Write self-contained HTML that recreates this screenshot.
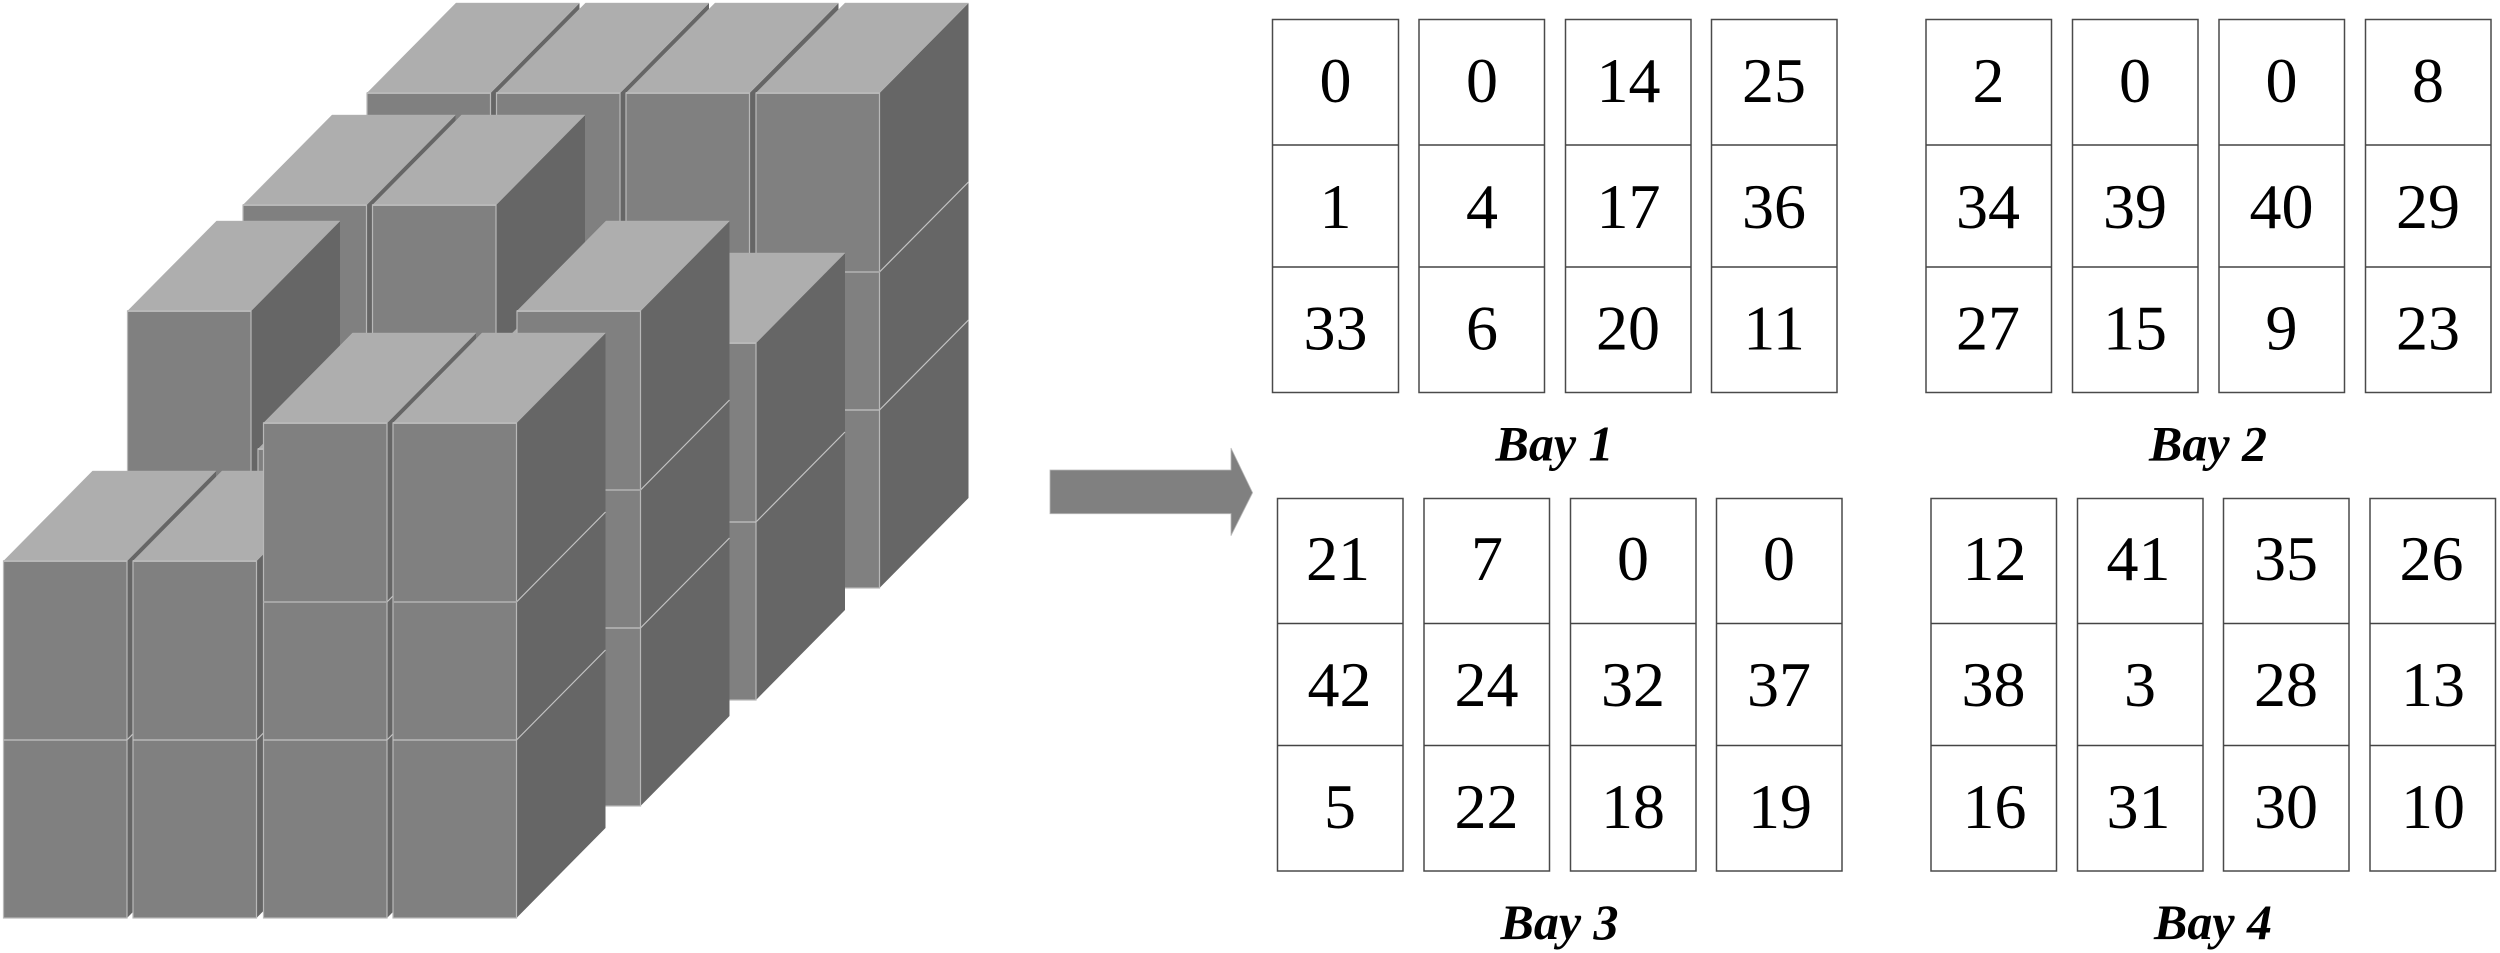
<!DOCTYPE html>
<html>
<head>
<meta charset="utf-8">
<style>
html,body{margin:0;padding:0;background:#fff;}
svg{display:block;}
.t{fill:#aeaeae;stroke:#b4b4b4;stroke-width:.4;}
.r{fill:#666;stroke:none;}
.f{fill:#808080;stroke:#b8b8b8;stroke-width:1.2;}
.e{stroke:#b8b8b8;stroke-width:2;fill:none;}
.l{stroke:#c4c4c4;stroke-width:1.2;fill:none;}
.m{stroke:#a6a6a6;stroke-width:2;fill:none;}
.c{fill:#fff;stroke:#4a4a4a;stroke-width:1.5;}
.h{stroke:#444;stroke-width:1.5;fill:none;}
text{font-family:"Liberation Serif",serif;fill:#000;}
.n{font-size:64px;text-anchor:middle;}
.b{font-size:50px;font-weight:bold;font-style:italic;}
</style>
</head>
<body>
<svg width="2500" height="953" viewBox="0 0 2500 953" xmlns="http://www.w3.org/2000/svg">
<defs>
<g id="c3">
<polygon class="r" points="123.5,-495 212.5,-585 212.5,-90 123.5,0"/>
<line class="l" x1="123.5" y1="-316" x2="212.5" y2="-406"/>
<line class="l" x1="123.5" y1="-178" x2="212.5" y2="-268"/>
<polygon class="t" points="0,-495 123.5,-495 212.5,-585 89,-585"/>
<rect class="f" x="0" y="-495" width="123.5" height="495"/>
<line class="e" x1="0" y1="-495" x2="123.5" y2="-495"/>
<line class="m" x1="0" y1="-316" x2="123.5" y2="-316"/>
<line class="l" x1="0" y1="-178" x2="123.5" y2="-178"/>
</g>
<g id="c2">
<polygon class="r" points="123.5,-357 212.5,-447 212.5,-90 123.5,0"/>
<line class="l" x1="123.5" y1="-178" x2="212.5" y2="-268"/>
<polygon class="t" points="0,-357 123.5,-357 212.5,-447 89,-447"/>
<rect class="f" x="0" y="-357" width="123.5" height="357"/>
<line class="e" x1="0" y1="-357" x2="123.5" y2="-357"/>
<line class="l" x1="0" y1="-178" x2="123.5" y2="-178"/>
</g>
</defs>

<!-- back row -->
<use href="#c3" x="367" y="588"/>
<use href="#c3" x="496.5" y="588"/>
<use href="#c3" x="626" y="588"/>
<use href="#c3" x="756" y="588"/>
<!-- second row -->
<use href="#c3" x="243" y="700"/>
<use href="#c3" x="372.5" y="700"/>
<use href="#c2" x="502.5" y="700"/>
<use href="#c2" x="632.5" y="700"/>
<!-- third row -->
<use href="#c3" x="127.5" y="806"/>
<use href="#c2" x="258" y="806"/>
<use href="#c2" x="387.5" y="806"/>
<use href="#c3" x="517" y="806"/>
<!-- front row -->
<use href="#c2" x="3.5" y="918"/>
<use href="#c2" x="133" y="918"/>
<use href="#c3" x="263.5" y="918"/>
<use href="#c3" x="393" y="918"/>

<!-- arrow -->
<polygon points="1050,470 1231,470 1231,448 1252.6,492.7 1231,535.7 1231,513.7 1050,513.7" fill="#808080" stroke="#b8b8b8" stroke-width=".8"/>

<!-- Bay 1 -->
<g>
<rect class="c" x="1272.5" y="19.5" width="126" height="373"/><line class="h" x1="1272.5" y1="145" x2="1398.5" y2="145"/><line class="h" x1="1272.5" y1="267" x2="1398.5" y2="267"/>
<rect class="c" x="1419" y="19.5" width="125.5" height="373"/><line class="h" x1="1419" y1="145" x2="1544.5" y2="145"/><line class="h" x1="1419" y1="267" x2="1544.5" y2="267"/>
<rect class="c" x="1565.5" y="19.5" width="125.5" height="373"/><line class="h" x1="1565.5" y1="145" x2="1691" y2="145"/><line class="h" x1="1565.5" y1="267" x2="1691" y2="267"/>
<rect class="c" x="1711.5" y="19.5" width="125.5" height="373"/><line class="h" x1="1711.5" y1="145" x2="1837" y2="145"/><line class="h" x1="1711.5" y1="267" x2="1837" y2="267"/>
<text class="n" x="1335.5" y="102">0</text><text class="n" x="1482" y="102">0</text><text class="n" x="1628.5" y="102">14</text><text class="n" x="1774" y="102">25</text>
<text class="n" x="1335.5" y="228">1</text><text class="n" x="1482" y="228">4</text><text class="n" x="1628.5" y="228">17</text><text class="n" x="1774" y="228">36</text>
<text class="n" x="1335.5" y="349.5">33</text><text class="n" x="1482" y="349.5">6</text><text class="n" x="1628" y="349.5">20</text><text class="n" x="1774" y="349.5">11</text>
<text class="b" x="1495.5" y="460.5">Bay 1</text>
</g>

<!-- Bay 2 -->
<g>
<rect class="c" x="1926" y="19.5" width="125.5" height="373"/><line class="h" x1="1926" y1="145" x2="2051.5" y2="145"/><line class="h" x1="1926" y1="267" x2="2051.5" y2="267"/>
<rect class="c" x="2072.5" y="19.5" width="125.5" height="373"/><line class="h" x1="2072.5" y1="145" x2="2198" y2="145"/><line class="h" x1="2072.5" y1="267" x2="2198" y2="267"/>
<rect class="c" x="2219" y="19.5" width="125.5" height="373"/><line class="h" x1="2219" y1="145" x2="2344.5" y2="145"/><line class="h" x1="2219" y1="267" x2="2344.5" y2="267"/>
<rect class="c" x="2365.5" y="19.5" width="125.5" height="373"/><line class="h" x1="2365.5" y1="145" x2="2491" y2="145"/><line class="h" x1="2365.5" y1="267" x2="2491" y2="267"/>
<text class="n" x="1988.5" y="102">2</text><text class="n" x="2135" y="102">0</text><text class="n" x="2281.5" y="102">0</text><text class="n" x="2428" y="102">8</text>
<text class="n" x="1988" y="228">34</text><text class="n" x="2135" y="228">39</text><text class="n" x="2281.5" y="228">40</text><text class="n" x="2428" y="228">29</text>
<text class="n" x="1988" y="349.5">27</text><text class="n" x="2135" y="349.5">15</text><text class="n" x="2281.5" y="349.5">9</text><text class="n" x="2428" y="349.5">23</text>
<text class="b" x="2149" y="460.5">Bay 2</text>
</g>

<!-- Bay 3 -->
<g>
<rect class="c" x="1277.5" y="498.5" width="125.5" height="372.5"/><line class="h" x1="1277.5" y1="623.5" x2="1403" y2="623.5"/><line class="h" x1="1277.5" y1="745.5" x2="1403" y2="745.5"/>
<rect class="c" x="1424" y="498.5" width="125.5" height="372.5"/><line class="h" x1="1424" y1="623.5" x2="1549.5" y2="623.5"/><line class="h" x1="1424" y1="745.5" x2="1549.5" y2="745.5"/>
<rect class="c" x="1570.5" y="498.5" width="125.5" height="372.5"/><line class="h" x1="1570.5" y1="623.5" x2="1696" y2="623.5"/><line class="h" x1="1570.5" y1="745.5" x2="1696" y2="745.5"/>
<rect class="c" x="1716.5" y="498.5" width="125.5" height="372.5"/><line class="h" x1="1716.5" y1="623.5" x2="1842" y2="623.5"/><line class="h" x1="1716.5" y1="745.5" x2="1842" y2="745.5"/>
<text class="n" x="1338" y="580">21</text><text class="n" x="1487" y="580">7</text><text class="n" x="1633" y="580">0</text><text class="n" x="1779" y="580">0</text>
<text class="n" x="1339.5" y="706">42</text><text class="n" x="1486.5" y="706">24</text><text class="n" x="1633" y="706">32</text><text class="n" x="1779" y="706">37</text>
<text class="n" x="1340" y="828">5</text><text class="n" x="1486.5" y="828">22</text><text class="n" x="1633" y="828">18</text><text class="n" x="1780" y="828">19</text>
<text class="b" x="1500.5" y="939">Bay 3</text>
</g>

<!-- Bay 4 -->
<g>
<rect class="c" x="1931" y="498.5" width="125.5" height="372.5"/><line class="h" x1="1931" y1="623.5" x2="2056.5" y2="623.5"/><line class="h" x1="1931" y1="745.5" x2="2056.5" y2="745.5"/>
<rect class="c" x="2077.5" y="498.5" width="125.5" height="372.5"/><line class="h" x1="2077.5" y1="623.5" x2="2203" y2="623.5"/><line class="h" x1="2077.5" y1="745.5" x2="2203" y2="745.5"/>
<rect class="c" x="2223.5" y="498.5" width="125.5" height="372.5"/><line class="h" x1="2223.5" y1="623.5" x2="2349" y2="623.5"/><line class="h" x1="2223.5" y1="745.5" x2="2349" y2="745.5"/>
<rect class="c" x="2370" y="498.5" width="125.5" height="372.5"/><line class="h" x1="2370" y1="623.5" x2="2495.5" y2="623.5"/><line class="h" x1="2370" y1="745.5" x2="2495.5" y2="745.5"/>
<text class="n" x="1994.5" y="580">12</text><text class="n" x="2138.5" y="580">41</text><text class="n" x="2286" y="580">35</text><text class="n" x="2431.5" y="580">26</text>
<text class="n" x="1993.5" y="706">38</text><text class="n" x="2140" y="706">3</text><text class="n" x="2286" y="706">28</text><text class="n" x="2433" y="706">13</text>
<text class="n" x="1994.5" y="828">16</text><text class="n" x="2138.5" y="828">31</text><text class="n" x="2286" y="828">30</text><text class="n" x="2433" y="828">10</text>
<text class="b" x="2154" y="939">Bay 4</text>
</g>
</svg>
</body>
</html>
